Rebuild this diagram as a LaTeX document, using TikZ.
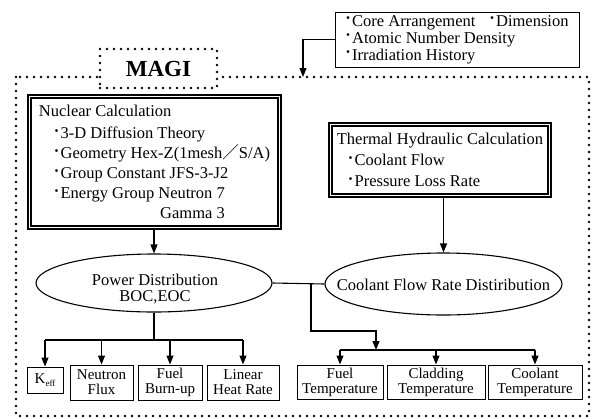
\documentclass[tikz,border=0pt]{standalone}
\usepackage{fontspec}
\setmainfont{Liberation Serif}
\newfontfamily\cjkfont{Noto Sans CJK JP}
\usetikzlibrary{arrows.meta,shapes.geometric}
\newcommand\mydot{\raisebox{0.16em}{\bfseries ·}\kern1.2pt}
\begin{document}
\begin{tikzpicture}[x=1pt,y=-1pt,
  dotframe/.style={line width=2.6pt, dash pattern=on 0pt off 7pt, line cap=round},
  ln/.style={line width=1.1pt},
  arr/.style={ln, -{Triangle[length=9pt,width=7pt]}},
  mainfont/.style={font=\fontsize{16.5}{20}\selectfont},
  dbox/.style={draw, line width=1.6pt, double, double distance=1.6pt, inner sep=0pt, mainfont, align=left},
  sbox/.style={draw, line width=1pt, inner sep=0pt, font=\fontsize{15}{15}\selectfont, align=center},
  ell/.style={draw, ellipse, line width=1.1pt, inner sep=0pt}
]
\useasboundingbox (0,0) rectangle (596,418);
\fill[white] (0,0) rectangle (596,418);

% outer dotted frame
\draw[dotframe] (16,77) rectangle (589,416);
\node[draw, dotframe, fill=white, minimum width=117pt, minimum height=39pt, inner sep=0pt,
      font=\fontsize{23}{23}\selectfont\bfseries] (magi) at (158.5,68.5) {MAGI};

% top input box
\node[draw, line width=1pt, minimum width=244pt, minimum height=55pt, inner sep=0pt,
      align=left, font=\fontsize{16.5}{17}\selectfont] (inp) at (457,39.5)
  {\mydot Core Arrangement\hspace{14pt}\mydot Dimension\\
   \mydot Atomic Number Density\\
   \mydot Irradiation History};
\coordinate (ftop) at (303,77);
\draw[arr] (inp.west) -| (ftop);

% nuclear calculation
\node[dbox, minimum width=250pt, minimum height=131pt] (nuc) at (154.5,162)
  {Nuclear Calculation\\[2pt]
   \hspace*{15pt}\mydot 3-D Diffusion Theory\\
   \hspace*{15pt}\mydot Geometry Hex-Z(1mesh{\cjkfont ／}S/A)\\
   \hspace*{15pt}\mydot Group Constant JFS-3-J2\\
   \hspace*{15pt}\mydot Energy Group Neutron 7\\
   \hspace*{15pt}\hphantom{\mydot Energy Group Neutron 7}\llap{Gamma 3}};

% thermal hydraulic calculation
\node[dbox, minimum width=219pt, minimum height=71pt, font=\fontsize{16.5}{21}\selectfont] (th) at (440,160)
  {Thermal Hydraulic Calculation\\
   \hspace*{11pt}\mydot Coolant Flow\\
   \hspace*{11pt}\mydot Pressure Loss Rate};

% ellipses
\node[ell, minimum width=236pt, minimum height=58pt] (pow) at (154,283) {};
\node[align=center, font=\fontsize{16.5}{16}\selectfont] (powt) at (155,289) {Power Distribution\\BOC,EOC};
\node[ell, minimum width=237pt, minimum height=62pt] (col) at (443.5,284) {};
\node[mainfont] (colt) at (443.5,285) {Coolant Flow Rate Distiribution};

\draw[arr] (pow.north |- nuc.south) -- (pow.north);
\draw[arr] (col.north |- th.south) -- (col.north);
\draw[ln] (pow.east) -- (col.west);

% bottom boxes
\node[sbox, minimum width=36pt, minimum height=26pt] (keff) at (45,380)
  {K\raisebox{-0.35ex}{\fontsize{9}{9}\selectfont eff}};
\node[sbox, minimum width=63pt, minimum height=35pt] (neu) at (101.5,382.5) {Neutron\\Flux};
\node[sbox, minimum width=64pt, minimum height=35pt] (fbu) at (170,382.5) {Fuel\\Burn-up};
\node[sbox, minimum width=72pt, minimum height=35pt] (lhr) at (243,382.5) {Linear\\Heat Rate};
\node[sbox, minimum width=86pt, minimum height=34pt] (ftm) at (340,382) {Fuel\\Temperature};
\node[sbox, minimum width=98pt, minimum height=34pt] (clt) at (436,382) {Cladding\\Temperature};
\node[sbox, minimum width=94pt, minimum height=34pt] (cot) at (535,382) {Coolant\\Temperature};

% left branch
\coordinate (j3) at (154,340);
\draw[ln] (pow.south) -- (j3);
\draw[ln] (keff.north |- j3) -- (lhr.north |- j3);
\foreach \n in {keff,neu,fbu,lhr} \draw[arr] (\n.north |- j3) -- (\n.north);

% right branch
\coordinate (j1) at (311,284);
\coordinate (j2) at (376,350);
\draw[arr] (j1) |- (376,331) -- (j2);
\draw[ln] (ftm.north |- j2) -- (cot.north |- j2);
\foreach \n in {ftm,clt,cot} \draw[arr] (\n.north |- j2) -- (\n.north);
\end{tikzpicture}
\end{document}
